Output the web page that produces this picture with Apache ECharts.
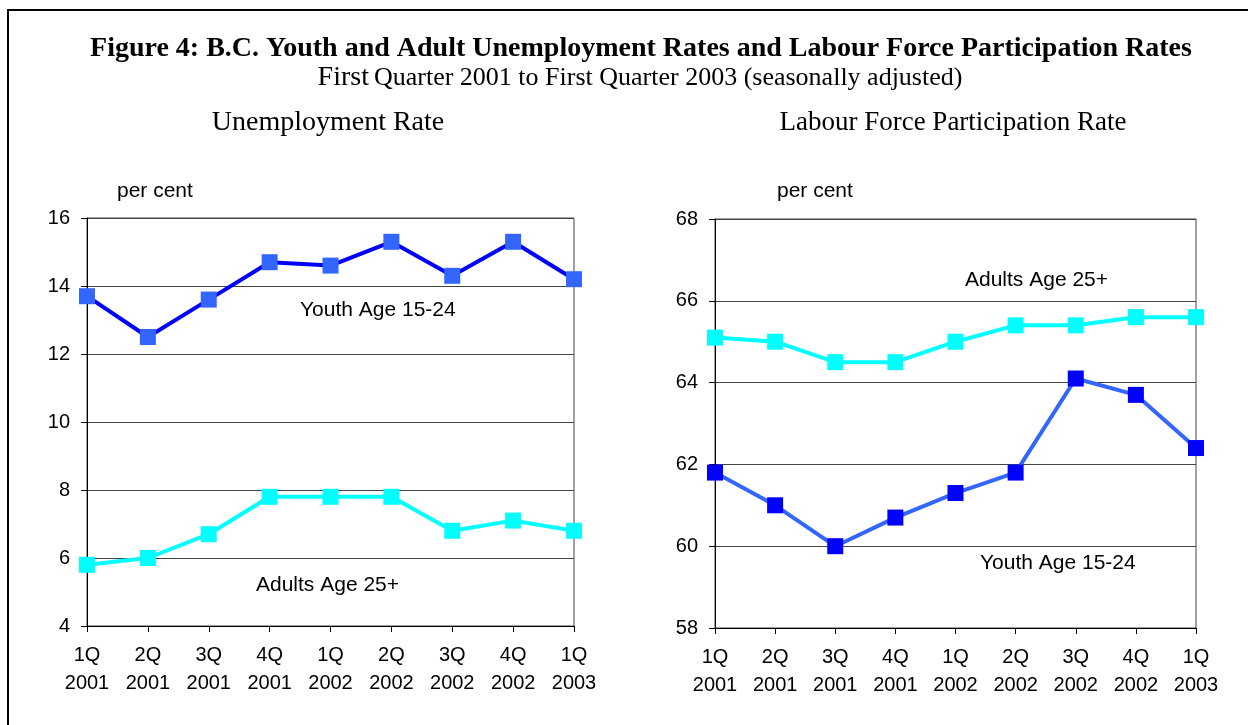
<!DOCTYPE html>
<html><head><meta charset="utf-8">
<script src="https://cdn.jsdelivr.net/npm/echarts@6/dist/echarts.min.js"></script>
<style>html,body{margin:0;padding:0;background:#fff}#c{width:1248px;height:725px}</style>
</head><body><div id="c"></div>
<script>
const categories = ['1Q\n2001','2Q\n2001','3Q\n2001','4Q\n2001','1Q\n2002','2Q\n2002','3Q\n2002','4Q\n2002','1Q\n2003'];
const unempYouth = [13.7, 12.5, 13.6, 14.7, 14.6, 15.3, 14.3, 15.3, 14.2];
const unempAdults = [5.8, 6.0, 6.7, 7.8, 7.8, 7.8, 6.8, 7.1, 6.8];
const partAdults = [65.1, 65.0, 64.5, 64.5, 65.0, 65.4, 65.4, 65.6, 65.6];
const partYouth = [61.8, 61.0, 60.0, 60.7, 61.3, 61.8, 64.1, 63.7, 62.4];

const chart = echarts.init(document.getElementById('c'));
const sans = 'Liberation Sans, Arial, sans-serif';
const serif = 'Liberation Serif, DejaVu Serif, serif';
function xAxis(gi){return {type:'category',gridIndex:gi,data:categories,boundaryGap:false,
  axisLine:{lineStyle:{color:'#000',width:1}},axisTick:{show:true,alignWithLabel:true,length:6,lineStyle:{color:'#000'}},
  axisLabel:{color:'#000',fontFamily:sans,fontSize:20,lineHeight:28,margin:15,interval:0},splitLine:{show:false}};}
function yAxis(gi,min,max){return {type:'value',gridIndex:gi,min:min,max:max,interval:2,
  axisLine:{show:true,lineStyle:{color:'#000',width:1}},axisTick:{show:true,length:6,lineStyle:{color:'#000'}},
  axisLabel:{color:'#000',fontFamily:sans,fontSize:20,margin:17},
  splitLine:{show:true,lineStyle:{color:'#444',width:1}}};}
function line(name,xi,data,lineColor,markColor){return {name:name,type:'line',xAxisIndex:xi,yAxisIndex:xi,data:data,
  symbol:'rect',symbolSize:16,lineStyle:{color:lineColor,width:4},itemStyle:{color:markColor,borderWidth:0},z:3,animation:false};}

chart.setOption({
  animation:false,
  title:[
    {text:'Figure 4: B.C. Youth and Adult Unemployment Rates and Labour Force Participation Rates',left:636,textAlign:'center',top:30,
     textStyle:{fontFamily:serif,fontWeight:'bold',fontSize:28,color:'#000'}},
    {text:'{a|First} {b|Quarter 2001 to First Quarter 2003 (seasonally adjusted)}',left:635,textAlign:'center',top:59,
     textStyle:{fontWeight:'normal',rich:{a:{fontFamily:serif,fontWeight:'normal',fontSize:28,color:'#000'},b:{fontFamily:serif,fontWeight:'normal',fontSize:26,color:'#000'}}}},
    {text:'Unemployment Rate',left:323,textAlign:'center',top:104,textStyle:{fontFamily:serif,fontWeight:'normal',fontSize:28,color:'#000'}},
    {text:'Labour Force Participation Rate',left:948,textAlign:'center',top:104,textStyle:{fontFamily:serif,fontWeight:'normal',fontSize:27,color:'#000'}}
  ],
  graphic:[
    {type:'rect',shape:{x:8,y:10,width:1260,height:740},style:{fill:'none',stroke:'#000',lineWidth:2},silent:true},
    {type:'text',left:117,top:181,style:{text:'per cent',font:'21px '+sans,fill:'#000'}},
    {type:'text',left:777,top:181,style:{text:'per cent',font:'21px '+sans,fill:'#000'}},
    {type:'text',left:300,top:300,style:{text:'Youth Age 15-24',font:'21px '+sans,fill:'#000'}},
    {type:'text',left:256,top:575,style:{text:'Adults Age 25+',font:'21px '+sans,fill:'#000'}},
    {type:'text',left:965,top:270,style:{text:'Adults Age 25+',font:'21px '+sans,fill:'#000'}},
    {type:'text',left:980,top:553,style:{text:'Youth Age 15-24',font:'21px '+sans,fill:'#000'}}
  ],
  grid:[
    {left:87,top:218,width:487,height:408,show:true,borderColor:'#444',borderWidth:1},
    {left:715,top:219,width:481,height:409,show:true,borderColor:'#444',borderWidth:1}
  ],
  xAxis:[xAxis(0),xAxis(1)],
  yAxis:[yAxis(0,4,16),yAxis(1,58,68)],
  series:[
    line('Youth Age 15-24',0,unempYouth,'#0000FF','#3366FF'),
    line('Adults Age 25+',0,unempAdults,'#00FFFF','#00FFFF'),
    line('Adults Age 25+',1,partAdults,'#00FFFF','#00FFFF'),
    line('Youth Age 15-24',1,partYouth,'#3366FF','#0000FF')
  ]
});
</script></body></html>
